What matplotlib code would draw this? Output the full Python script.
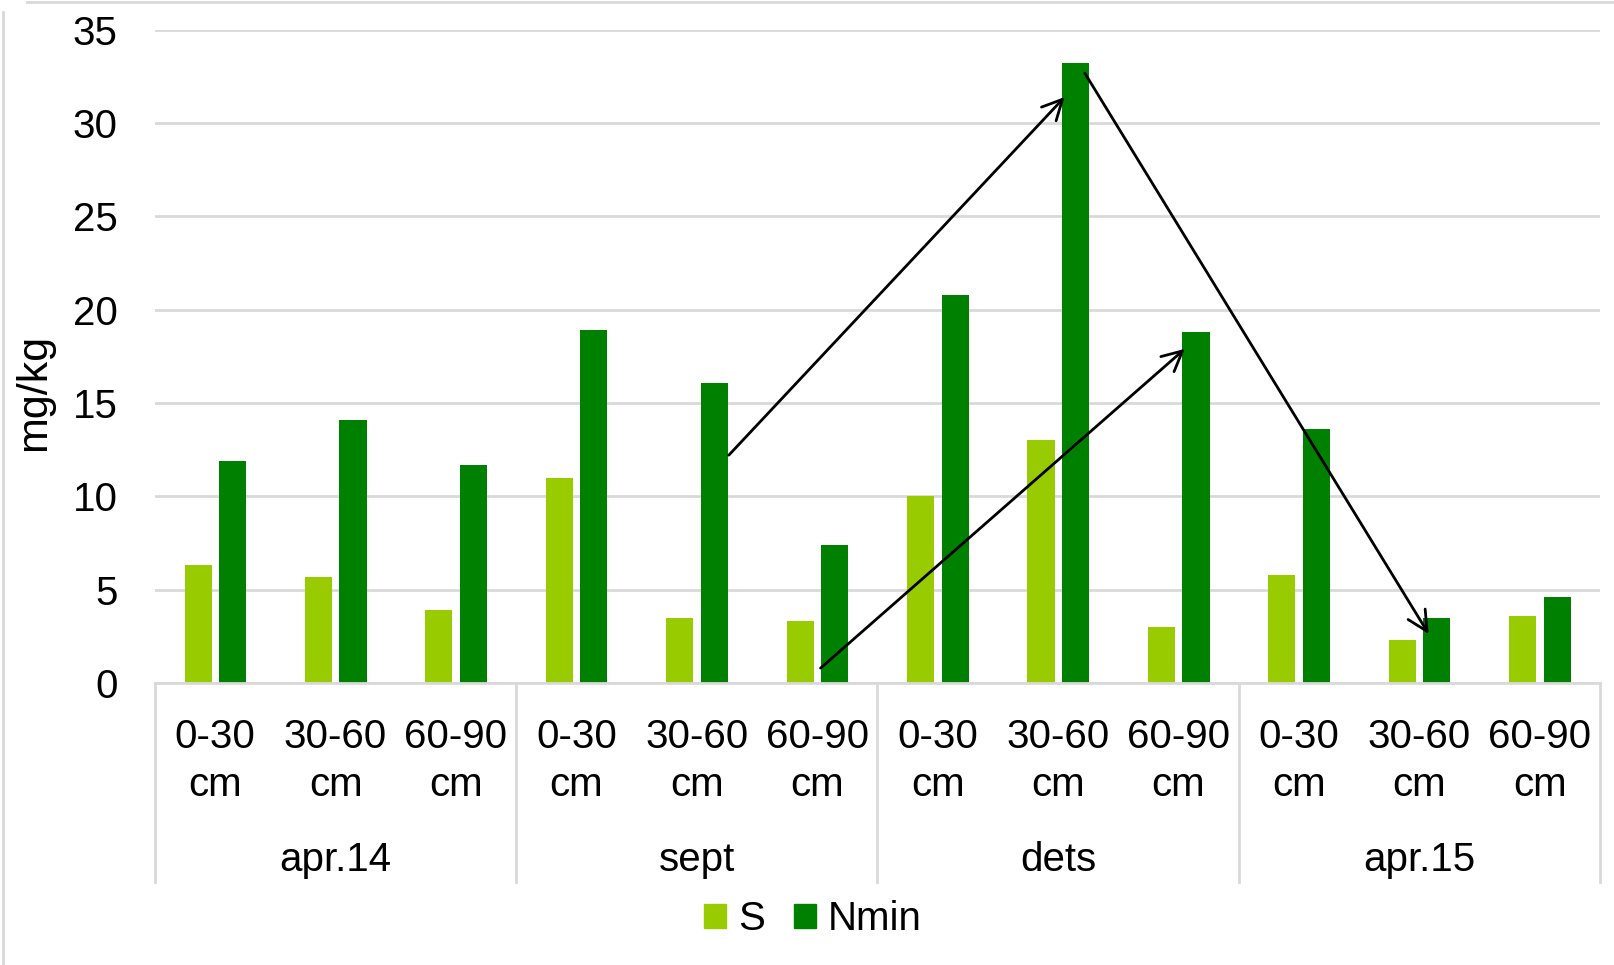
import matplotlib.pyplot as plt
from matplotlib.patches import Patch

plt.rcParams['font.family'] = ['Liberation Sans', 'DejaVu Sans']

# data
depths = ['0-30\ncm', '30-60\ncm', '60-90\ncm'] * 4
groups = ['apr.14', 'sept', 'dets', 'apr.15']
s_vals = [6.3, 5.7, 3.9, 11.0, 3.5, 3.3, 10.0, 13.0, 3.0, 5.8, 2.3, 3.6]
nmin_vals = [11.9, 14.1, 11.7, 18.9, 16.1, 7.4, 20.8, 33.2, 18.8, 13.6, 3.5, 4.6]

light = '#99CC00'
dark = '#008000'
grid_c = '#d9d9d9'

fig = plt.figure(figsize=(16.14, 9.65), dpi=100)
ax = fig.add_axes([0.0960, 0.2922, 0.8953, 0.6770])

x = list(range(len(depths)))
w = 0.225
ax.bar([i - 0.142 for i in x], s_vals, width=w, color=light, zorder=2)
ax.bar([i + 0.145 for i in x], nmin_vals, width=w, color=dark, zorder=2)

ax.set_xlim(-0.5, len(depths) - 0.5)
ax.set_ylim(0, 35)
ax.set_yticks(range(0, 36, 5))
ax.yaxis.grid(True, color=grid_c, lw=2)
ax.set_axisbelow(True)
for sp in ['top', 'right', 'left']:
    ax.spines[sp].set_visible(False)
ax.spines['bottom'].set_color(grid_c)
ax.spines['bottom'].set_linewidth(2)
ax.tick_params(axis='y', length=0, pad=27, labelsize=29)
ax.set_xticks(x)
ax.set_xticklabels(depths, fontsize=29, linespacing=1.33)
ax.tick_params(axis='x', length=0, pad=25)
ax.set_ylabel('mg/kg', fontsize=31)
ax.yaxis.set_label_coords(-0.07, 0.445)

# group separators and labels
tr = ax.get_xaxis_transform()
for b in [-0.5, 2.5, 5.5, 8.5, 11.5]:
    ax.plot([b, b], [0, -0.305], transform=tr, color=grid_c, lw=2, clip_on=False)
for k, g in enumerate(groups):
    ax.text(3 * k + 1, -0.271, g, transform=tr, ha='center', va='center', fontsize=29)

# arrows
arr = dict(arrowstyle='->', color='black', lw=2, mutation_scale=36)
ax.annotate('', xy=(7.07, 31.5), xytext=(4.25, 12.1), arrowprops=arr)
ax.annotate('', xy=(8.07, 18.0), xytext=(5.01, 0.7), arrowprops=arr)
ax.annotate('', xy=(10.09, 2.5), xytext=(7.21, 32.8), arrowprops=arr)

handles = [Patch(color=light, label='S'), Patch(color=dark, label='Nmin')]
fig.legend(handles=handles, loc='center', bbox_to_anchor=(813 / 1614, 1 - 919 / 965),
           ncol=2, frameon=False, fontsize=29, handlelength=0.55, handleheight=0.55,
           handletextpad=0.3, columnspacing=0.7)

# chart-area border lines
fig.add_artist(plt.Line2D([27 / 1614, 1], [1 - 2 / 965, 1 - 2 / 965], color=grid_c, lw=2))
fig.add_artist(plt.Line2D([3 / 1614, 3 / 1614], [0, 1 - 12 / 965], color=grid_c, lw=2))

plt.savefig('out.png', dpi=100)
